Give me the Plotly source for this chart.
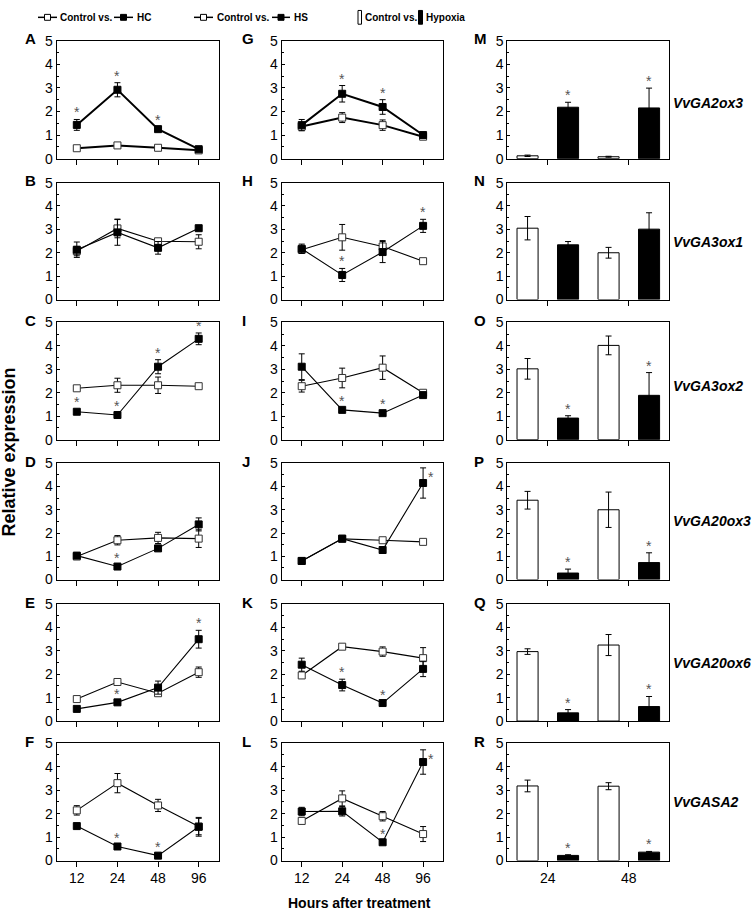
import plotly.graph_objects as go

# ---------------- data ----------------
hours = ["12", "24", "48", "96"]
bar_hours = ["24", "48"]

# HC column (A-F): control vs. HC
A_ctrl = [0.44, 0.56, 0.46, 0.35]; A_ctrl_err = [0.05, 0.07, 0.05, 0.04]
A_trt = [1.43, 2.92, 1.25, 0.40];  A_trt_err = [0.23, 0.30, 0.07, 0.05]
A_sig = [1, 1, 1, 0]
B_ctrl = [2.07, 3.04, 2.49, 2.47]; B_ctrl_err = [0.20, 0.40, 0.10, 0.30]
B_trt = [2.13, 2.87, 2.21, 3.05];  B_trt_err = [0.33, 0.55, 0.27, 0.08]
B_sig = [0, 0, 0, 0]
C_ctrl = [2.19, 2.32, 2.32, 2.28]; C_ctrl_err = [0.07, 0.30, 0.35, 0.08]
C_trt = [1.19, 1.05, 3.11, 4.30];  C_trt_err = [0.10, 0.10, 0.30, 0.25]
C_sig = [1, 1, 1, 1]
D_ctrl = [0.99, 1.69, 1.79, 1.76]; D_ctrl_err = [0.10, 0.20, 0.24, 0.38]
D_trt = [1.03, 0.56, 1.34, 2.37];  D_trt_err = [0.10, 0.05, 0.08, 0.28]
D_sig = [0, 1, 0, 0]
E_ctrl = [0.94, 1.67, 1.19, 2.09]; E_ctrl_err = [0.07, 0.08, 0.10, 0.22]
E_trt = [0.52, 0.80, 1.43, 3.50];  E_trt_err = [0.05, 0.07, 0.28, 0.38]
E_sig = [0, 1, 0, 1]
F_ctrl = [2.14, 3.30, 2.35, 1.45]; F_ctrl_err = [0.20, 0.41, 0.26, 0.35]
F_trt = [1.47, 0.60, 0.21, 1.44];  F_trt_err = [0.05, 0.05, 0.05, 0.40]
F_sig = [0, 1, 1, 0]

# HS column (G-L): control vs. HS   (2 = star drawn beside the error bar)
G_ctrl = [1.36, 1.74, 1.42, 0.93]; G_ctrl_err = [0.15, 0.21, 0.22, 0.10]
G_trt = [1.42, 2.75, 2.19, 1.00];  G_trt_err = [0.24, 0.35, 0.31, 0.10]
G_sig = [0, 1, 1, 0]
H_ctrl = [2.13, 2.66, 2.27, 1.64]; H_ctrl_err = [0.10, 0.55, 0.25, 0.07]
H_trt = [2.17, 1.05, 2.03, 3.15];  H_trt_err = [0.20, 0.28, 0.45, 0.28]
H_sig = [0, 1, 0, 1]
I_ctrl = [2.28, 2.63, 3.07, 2.00]; I_ctrl_err = [0.25, 0.42, 0.50, 0.08]
I_trt = [3.11, 1.27, 1.13, 1.90];  I_trt_err = [0.55, 0.07, 0.10, 0.07]
I_sig = [0, 1, 1, 0]
J_ctrl = [0.80, 1.75, 1.69, 1.62]; J_ctrl_err = [0.05, 0.08, 0.07, 0.08]
J_trt = [0.80, 1.76, 1.27, 4.15];  J_trt_err = [0.05, 0.08, 0.05, 0.65]
J_sig = [0, 0, 0, 2]
K_ctrl = [1.95, 3.18, 2.97, 2.69]; K_ctrl_err = [0.10, 0.08, 0.20, 0.45]
K_trt = [2.41, 1.54, 0.77, 2.23];  K_trt_err = [0.28, 0.25, 0.05, 0.33]
K_sig = [0, 1, 1, 0]
L_ctrl = [1.69, 2.65, 1.89, 1.13]; L_ctrl_err = [0.10, 0.32, 0.20, 0.32]
L_trt = [2.09, 2.10, 0.78, 4.20];  L_trt_err = [0.18, 0.20, 0.05, 0.52]
L_sig = [0, 0, 1, 2]

# Hypoxia column (M-R): bars at 24 h and 48 h
M_ctrl = [0.12, 0.08]; M_ctrl_err = [0.03, 0.02]; M_hyp = [2.18, 2.15]; M_hyp_err = [0.21, 0.84]; M_sig = [1, 1]
N_ctrl = [3.05, 2.00]; N_ctrl_err = [0.50, 0.23]; N_hyp = [2.34, 3.01]; N_hyp_err = [0.14, 0.70]; N_sig = [0, 0]
O_ctrl = [3.02, 4.02]; O_ctrl_err = [0.44, 0.40]; O_hyp = [0.92, 1.89]; O_hyp_err = [0.10, 0.97]; O_sig = [1, 1]
P_ctrl = [3.41, 3.00]; P_ctrl_err = [0.38, 0.76]; P_hyp = [0.28, 0.73]; P_hyp_err = [0.17, 0.42]; P_sig = [1, 1]
Q_ctrl = [2.97, 3.25]; Q_ctrl_err = [0.12, 0.45]; Q_hyp = [0.35, 0.62]; Q_hyp_err = [0.14, 0.43]; Q_sig = [1, 1]
R_ctrl = [3.18, 3.17]; R_ctrl_err = [0.25, 0.15]; R_hyp = [0.22, 0.36]; R_hyp_err = [0.03, 0.03]; R_sig = [1, 1]

genes = ["VvGA2ox3", "VvGA3ox1", "VvGA3ox2", "VvGA20ox3", "VvGA20ox6", "VvGASA2"]
gene_label_y = [2.35, 2.47, 2.3, 2.5, 2.5, 2.5]

hc_panels = [("A", A_ctrl, A_ctrl_err, A_trt, A_trt_err, A_sig),
             ("B", B_ctrl, B_ctrl_err, B_trt, B_trt_err, B_sig),
             ("C", C_ctrl, C_ctrl_err, C_trt, C_trt_err, C_sig),
             ("D", D_ctrl, D_ctrl_err, D_trt, D_trt_err, D_sig),
             ("E", E_ctrl, E_ctrl_err, E_trt, E_trt_err, E_sig),
             ("F", F_ctrl, F_ctrl_err, F_trt, F_trt_err, F_sig)]
hs_panels = [("G", G_ctrl, G_ctrl_err, G_trt, G_trt_err, G_sig),
             ("H", H_ctrl, H_ctrl_err, H_trt, H_trt_err, H_sig),
             ("I", I_ctrl, I_ctrl_err, I_trt, I_trt_err, I_sig),
             ("J", J_ctrl, J_ctrl_err, J_trt, J_trt_err, J_sig),
             ("K", K_ctrl, K_ctrl_err, K_trt, K_trt_err, K_sig),
             ("L", L_ctrl, L_ctrl_err, L_trt, L_trt_err, L_sig)]
hyp_panels = [("M", M_ctrl, M_ctrl_err, M_hyp, M_hyp_err, M_sig),
              ("N", N_ctrl, N_ctrl_err, N_hyp, N_hyp_err, N_sig),
              ("O", O_ctrl, O_ctrl_err, O_hyp, O_hyp_err, O_sig),
              ("P", P_ctrl, P_ctrl_err, P_hyp, P_hyp_err, P_sig),
              ("Q", Q_ctrl, Q_ctrl_err, Q_hyp, Q_hyp_err, Q_sig),
              ("R", R_ctrl, R_ctrl_err, R_hyp, R_hyp_err, R_sig)]

# ---------------- layout geometry (pixels) ----------------
W, H = 755, 918
col_x = [(56.5, 219.0), (281.5, 443.3), (507.3, 669.3)]
row_y = [(33.3, 153.3), (177.7, 296.7), (320.0, 439.3),
         (463.3, 581.7), (606.7, 725.7), (748.3, 867.7)]
letter_x = [23, 240, 472]

FONT = "Liberation Sans, Arial, Helvetica, sans-serif"
STAR_COLOR = "#555555"


def px(x):
    return x / W


def py(y):
    return 1 - y / H


fig = go.Figure()
layout = {}
annotations = []
shapes = []

err_style = dict(type="data", color="black", thickness=1, width=3, visible=True)

for c, panels in enumerate([hc_panels, hs_panels, hyp_panels]):
    for r, (letter, ctrl, ctrl_err, trt, trt_err, sig) in enumerate(panels):
        n = c * 6 + r + 1
        xa, ya = f"x{n}", f"y{n}"
        xk, yk = f"xaxis{n}", f"yaxis{n}"
        bottom = r == 5
        if c < 2:
            cats = hours
            lw = 2 if r == 0 else 1.1
            fig.add_trace(go.Scatter(
                x=cats, y=ctrl, xaxis=xa, yaxis=ya, mode="lines+markers",
                line=dict(color="black", width=lw),
                marker=dict(symbol="square", size=7, color="white",
                            line=dict(color="#333333", width=1)),
                error_y=dict(array=ctrl_err, **err_style),
                showlegend=False, cliponaxis=False))
            fig.add_trace(go.Scatter(
                x=cats, y=trt, xaxis=xa, yaxis=ya, mode="lines+markers",
                line=dict(color="black", width=lw),
                marker=dict(symbol="square", size=7, color="black",
                            line=dict(color="black", width=1)),
                error_y=dict(array=trt_err, **err_style),
                showlegend=False, cliponaxis=False))
            star_xshift_base = 0
        else:
            cats = bar_hours
            fig.add_trace(go.Bar(
                x=cats, y=ctrl, xaxis=xa, yaxis=ya,
                marker=dict(color="white", line=dict(color="black", width=1)),
                error_y=dict(array=ctrl_err, **err_style), showlegend=False))
            fig.add_trace(go.Bar(
                x=cats, y=trt, xaxis=xa, yaxis=ya,
                marker=dict(color="black", line=dict(color="black", width=1)),
                error_y=dict(array=trt_err, **err_style), showlegend=False))
            # offset of the second bar inside its group (half a bar slot)
            cat_px = (col_x[c][1] - col_x[c][0]) / len(cats)
            star_xshift_base = cat_px / 4
            annotations.append(dict(
                xref="paper", x=px(col_x[c][1] + 1.5), xanchor="left",
                yref=ya, y=gene_label_y[r], yanchor="middle",
                text=f"<b><i>{genes[r]}</i></b>", showarrow=False,
                font=dict(family=FONT, size=14, color="black")))

        for i, s in enumerate(sig):
            if not s:
                continue
            top = trt[i] + trt_err[i]
            if s == 2:
                annotations.append(dict(
                    xref=xa, x=i, yref=ya, y=top, xanchor="left",
                    yanchor="top", xshift=star_xshift_base + 3, yshift=1,
                    text="*", showarrow=False,
                    font=dict(family=FONT, size=14, color=STAR_COLOR)))
            else:
                annotations.append(dict(
                    xref=xa, x=i, yref=ya, y=top, xanchor="center",
                    yanchor="bottom", xshift=star_xshift_base, yshift=-3,
                    text="*", showarrow=False,
                    font=dict(family=FONT, size=14, color=STAR_COLOR)))

        layout[xk] = dict(
            domain=[px(col_x[c][0]), px(col_x[c][1])], anchor=ya,
            type="category", range=[-0.5, len(cats) - 0.5],
            showline=True, mirror=True, linecolor="black", linewidth=1,
            ticks="outside", ticklen=5, tickcolor="black", tickwidth=1,
            showticklabels=bottom, showgrid=False, zeroline=False,
            tickfont=dict(family=FONT, size=14, color="black"),
            fixedrange=True)
        layout[yk] = dict(
            domain=[py(row_y[r][1]), py(row_y[r][0])], anchor=xa,
            range=[0, 5], tickvals=[0, 1, 2, 3, 4, 5],
            showline=True, mirror=True, linecolor="black", linewidth=1,
            ticks="inside", ticklen=3, tickcolor="black", tickwidth=1,
            minor=dict(dtick=0.5, ticks="inside", ticklen=2,
                       tickcolor="black", showgrid=False),
            showgrid=False, zeroline=False,
            tickfont=dict(family=FONT, size=14, color="black"),
            fixedrange=True)

        annotations.append(dict(
            xref="paper", yref="paper", x=px(letter_x[c]), y=py(row_y[r][0] - 2),
            xanchor="left", yanchor="middle", text=f"<b>{letter}</b>",
            showarrow=False, font=dict(family=FONT, size=15, color="black")))

# axis titles
annotations.append(dict(
    xref="paper", yref="paper", x=px(9.5), y=py(452), textangle=-90,
    xanchor="center", yanchor="middle", text="<b>Relative expression</b>",
    showarrow=False, font=dict(family=FONT, size=18, color="black")))
annotations.append(dict(
    xref="paper", yref="paper", x=px(359.7), y=py(911), xanchor="center",
    yanchor="middle", text="<b>Hours after treatment</b>",
    showarrow=False, font=dict(family=FONT, size=14, color="black")))

# ---------------- header keys ----------------
HEAD_FONT = "Liberation Sans, Arial, sans-serif"
hy = 9.5


def line_key(x0, x1, fill):
    xc = (x0 + x1) / 2
    shapes.append(dict(type="line", xref="paper", yref="paper",
                       x0=px(x0), x1=px(x1), y0=py(hy), y1=py(hy),
                       line=dict(color="black", width=1.5)))
    shapes.append(dict(type="rect", xref="paper", yref="paper",
                       x0=px(xc - 3), x1=px(xc + 3), y0=py(hy - 3), y1=py(hy + 3),
                       fillcolor=fill, line=dict(color="black", width=1)))


def bar_key(x0, x1, fill):
    shapes.append(dict(type="rect", xref="paper", yref="paper",
                       x0=px(x0), x1=px(x1), y0=py(hy + 7), y1=py(hy - 7),
                       fillcolor=fill, line=dict(color="black", width=1)))


def head_text(x, t):
    annotations.append(dict(xref="paper", yref="paper", x=px(x), y=py(hy),
                            xanchor="left", yanchor="middle", text=f"<b>{t}</b>",
                            showarrow=False,
                            font=dict(family=HEAD_FONT, size=10, color="black")))


line_key(38, 57, "white"); head_text(58, "Control vs.")
line_key(114, 133, "black"); head_text(135, "HC")
line_key(194, 213, "white"); head_text(215, "Control vs.")
line_key(272, 290, "black"); head_text(291.5, "HS")
bar_key(358, 361.5, "white"); head_text(362.5, "Control vs.")
bar_key(418.5, 422.5, "black"); head_text(424, "Hypoxia")

fig.update_layout(
    width=W, height=H, margin=dict(l=0, r=0, t=0, b=0),
    paper_bgcolor="white", plot_bgcolor="white",
    barmode="group", bargap=0.0, bargroupgap=0.48,
    showlegend=False, annotations=annotations, shapes=shapes,
    font=dict(family=FONT, color="black"),
    **layout)

fig.write_html(
    "out.html",
    config={"displayModeBar": False, "staticPlot": True},
    post_script="document.body.style.margin='0px';document.body.style.overflow='hidden';")
